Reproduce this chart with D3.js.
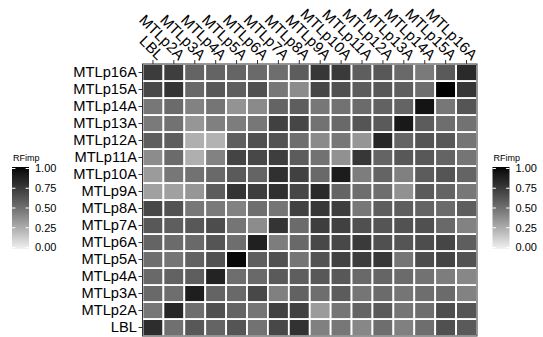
<!DOCTYPE html>
<html>
<head>
<meta charset="utf-8">
<script src="https://cdn.jsdelivr.net/npm/d3@7"></script>
<style>
  html, body { margin: 0; padding: 0; background: #fff; }
  svg { display: block; font-family: "Liberation Sans", Arial, Helvetica, sans-serif; }
</style>
</head>
<body>
<svg id="chart" width="543" height="337"></svg>
<script>
// Variables (columns) and responses (rows, bottom to top)
const xLabels = ["LBL","MTLp2A","MTLp3A","MTLp4A","MTLp5A","MTLp6A","MTLp7A","MTLp8A",
                 "MTLp9A","MTLp10A","MTLp11A","MTLp12A","MTLp13A","MTLp14A","MTLp15A","MTLp16A"];
const yLabels = ["LBL","MTLp2A","MTLp3A","MTLp4A","MTLp5A","MTLp6A","MTLp7A","MTLp8A",
                 "MTLp9A","MTLp10A","MTLp11A","MTLp12A","MTLp13A","MTLp14A","MTLp15A","MTLp16A"];

// Scaled random-forest importance, one row per entry of yLabels, columns follow xLabels
const rfimp = [
  [0.805,0.505,0.61,0.555,0.62,0.495,0.68,0.78, 0.44,0.475,0.41,0.515,0.44,0.515,0.645,0.60],   // LBL
  [0.475,0.84,0.515,0.645,0.555,0.485,0.71,0.71, 0.33,0.485,0.555,0.60,0.485,0.515,0.655,0.62], // MTLp2A
  [0.535,0.515,0.88,0.555,0.535,0.68,0.44,0.565, 0.515,0.59,0.485,0.525,0.485,0.515,0.525,0.43],// MTLp3A
  [0.535,0.565,0.58,0.857,0.515,0.535,0.60,0.58, 0.61,0.61,0.535,0.55,0.525,0.495,0.45,0.41],   // MTLp4A
  [0.515,0.485,0.565,0.635,0.98,0.58,0.645,0.485, 0.635,0.71,0.735,0.76,0.485,0.655,0.70,0.635],// MTLp5A
  [0.555,0.525,0.535,0.62,0.515,0.87,0.45,0.535, 0.68,0.68,0.745,0.645,0.62,0.655,0.69,0.58],   // MTLp6A
  [0.61,0.58,0.61,0.655,0.485,0.39,0.775,0.525, 0.725,0.71,0.645,0.62,0.635,0.645,0.535,0.43],  // MTLp7A
  [0.68,0.635,0.475,0.465,0.43,0.515,0.485,0.71, 0.76,0.725,0.475,0.58,0.58,0.555,0.525,0.58],  // MTLp8A
  [0.31,0.31,0.35,0.59,0.775,0.725,0.79,0.69, 0.82,0.555,0.515,0.515,0.37,0.60,0.555,0.475],    // MTLp9A
  [0.33,0.475,0.495,0.535,0.60,0.555,0.79,0.71, 0.535,0.89,0.45,0.555,0.44,0.59,0.62,0.555],    // MTLp10A
  [0.39,0.525,0.25,0.43,0.70,0.68,0.725,0.59, 0.495,0.37,0.76,0.555,0.61,0.61,0.555,0.485],     // MTLp11A
  [0.58,0.58,0.25,0.24,0.58,0.645,0.635,0.515, 0.40,0.475,0.35,0.84,0.55,0.62,0.61,0.485],      // MTLp12A
  [0.465,0.495,0.35,0.44,0.45,0.475,0.71,0.69, 0.495,0.535,0.62,0.60,0.91,0.59,0.515,0.495],    // MTLp13A
  [0.475,0.525,0.43,0.485,0.36,0.40,0.555,0.58, 0.475,0.495,0.525,0.565,0.555,0.935,0.475,0.62],// MTLp14A
  [0.68,0.775,0.54,0.61,0.58,0.645,0.475,0.39, 0.69,0.645,0.59,0.61,0.58,0.515,1.00,0.76],      // MTLp15A
  [0.735,0.725,0.555,0.555,0.55,0.53,0.515,0.585, 0.76,0.745,0.58,0.61,0.535,0.465,0.60,0.82]   // MTLp16A
];

const legendTicks = [0, 0.25, 0.5, 0.75, 1];
const legendTitle = "RFimp";

const svg = d3.select("#chart");
svg.append("rect").attr("width", 543).attr("height", 337).attr("fill", "#fff");

const panel = { left: 142.5, right: 477, top: 64, bottom: 336 };

const x = d3.scaleBand().domain(xLabels).range([panel.left, panel.right]).padding(0);
const y = d3.scaleBand().domain(yLabels).range([panel.bottom, panel.top]).padding(0);

const color = d3.scaleLinear().domain([0, 1])
  .range(["#f2f2f2", "#000000"])
  .interpolate(d3.interpolateLab);

// tiles
const cells = [];
yLabels.forEach((r, i) => xLabels.forEach((c, j) => cells.push({ row: r, col: c, v: rfimp[i][j] })));

svg.append("g").selectAll("rect").data(cells).join("rect")
  .attr("x", d => x(d.col))
  .attr("y", d => y(d.row))
  .attr("width", x.bandwidth())
  .attr("height", y.bandwidth())
  .attr("fill", d => color(d.v))
  .attr("stroke", "#fff")
  .attr("stroke-width", 1.8);

// panel border
svg.append("rect")
  .attr("x", panel.left).attr("y", panel.top)
  .attr("width", panel.right - panel.left).attr("height", panel.bottom - panel.top)
  .attr("fill", "none").attr("stroke", "#333").attr("stroke-width", 1);

// left axis
const yAxis = svg.append("g")
  .attr("transform", `translate(${panel.left},0)`)
  .call(d3.axisLeft(y).tickSize(4).tickPadding(1.5));
yAxis.select(".domain").remove();
yAxis.selectAll(".tick line").attr("stroke", "#333");
yAxis.selectAll(".tick text").attr("fill", "#000").style("font-size", "14.7px")
  .style("font-family", "'Liberation Sans', Arial, sans-serif");

// top axis with slanted labels
const xAxis = svg.append("g")
  .attr("transform", `translate(0,${panel.top})`)
  .call(d3.axisTop(x).tickSize(4).tickPadding(2));
xAxis.select(".domain").remove();
xAxis.selectAll(".tick line").attr("stroke", "#333");
xAxis.selectAll(".tick text")
  .attr("fill", "#000")
  .style("font-size", "15px")
  .style("font-family", "'Liberation Sans', Arial, sans-serif")
  .attr("text-anchor", "end")
  .attr("dy", null)
  .attr("y", 0)
  .attr("transform", "translate(4.5,-3) rotate(45)");

// colour bar legends (one on each side)
const defs = svg.append("defs");
const grad = defs.append("linearGradient").attr("id", "rfgrad")
  .attr("x1", 0).attr("y1", 1).attr("x2", 0).attr("y2", 0);
d3.range(0, 1.0001, 0.05).forEach(t => {
  grad.append("stop").attr("offset", t).attr("stop-color", color(t));
});

function drawLegend(x0) {
  const g = svg.append("g");
  const barTop = 167, barBottom = 249, barW = 17;
  const ly = d3.scaleLinear().domain([0, 1]).range([247.5, 168.5]);
  g.append("text").attr("x", x0 + 1).attr("y", 161)
    .style("font-size", "9px").attr("fill", "#000").text(legendTitle);
  g.append("rect").attr("x", x0).attr("y", barTop)
    .attr("width", barW).attr("height", barBottom - barTop)
    .attr("fill", "url(#rfgrad)");
  legendTicks.forEach(t => {
    g.append("line").attr("x1", x0).attr("x2", x0 + 3.4)
      .attr("y1", ly(t)).attr("y2", ly(t)).attr("stroke", "#fff").attr("stroke-width", 1);
    g.append("line").attr("x1", x0 + barW - 3.4).attr("x2", x0 + barW)
      .attr("y1", ly(t)).attr("y2", ly(t)).attr("stroke", "#fff").attr("stroke-width", 1);
    g.append("text").attr("x", x0 + barW + 6).attr("y", ly(t) + 3.8)
      .style("font-size", "11px").attr("fill", "#000").text(d3.format(".2f")(t));
  });
}
drawLegend(12);
drawLegend(492.5);
</script>
</body>
</html>
